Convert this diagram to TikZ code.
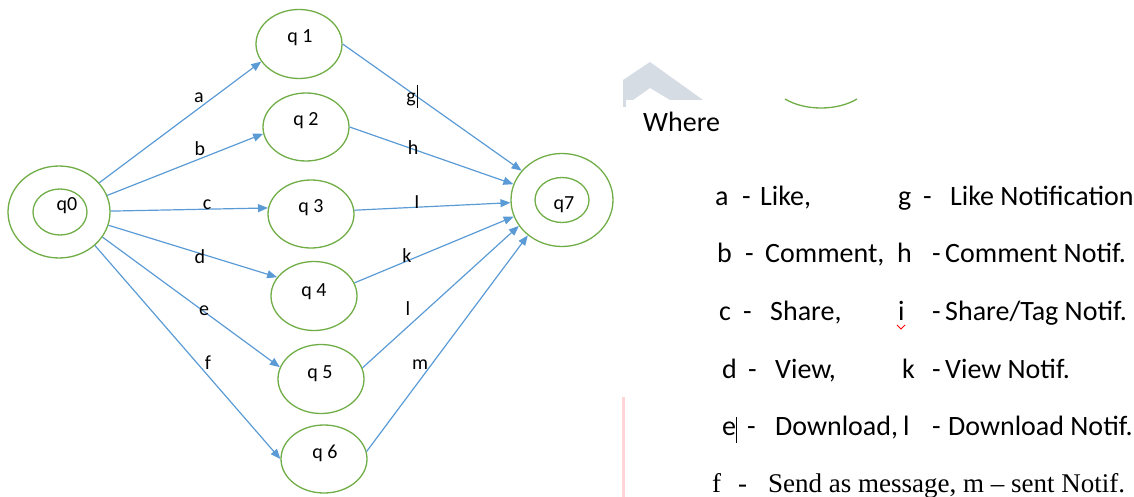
\documentclass[tikz,border=0pt]{standalone}
\usepackage{fontspec}
\setmainfont{Carlito}
\newfontfamily\serifface{Liberation Serif}
\usetikzlibrary{shapes.geometric,arrows.meta}

\definecolor{stategreen}{HTML}{70AD47}
\definecolor{edgeblue}{HTML}{5B9BD5}
\definecolor{patchgrey}{HTML}{D6DCE4}
\definecolor{markpink}{HTML}{FFD5D8}

\tikzset{
	state/.style={ellipse,draw=stategreen,line width=1.3pt,inner sep=0pt,
		minimum width=86pt,minimum height=69pt},
	final/.style={state,minimum width=102pt,minimum height=92pt},
	innerring/.style={state,minimum width=54pt,minimum height=46pt},
	qtext/.style={anchor=base,inner sep=0pt,font=\fontsize{20}{24}\selectfont},
	trans/.style={draw=edgeblue,line width=1.2pt,-{Triangle[length=10pt,width=8pt]}},
	legend/.style={anchor=base west,inner sep=0pt,font=\fontsize{28}{32}\selectfont},
	legendserif/.style={legend,font=\serifface\fontsize{27}{32}\selectfont}
}

\begin{document}
\begin{tikzpicture}[x=1pt,y=-1pt]
	\useasboundingbox (0,0) rectangle (1134,497);
	% states
	\node[final] (q0) at (59,212) {};
	\node[innerring] (q0in) at (60,212) {};
	\node[state] (q1) at (299,44) {};
	\node[state,minimum height=68pt] (q2) at (306,127) {};
	\node[state,minimum height=68pt] (q3) at (311,214) {};
	\node[state] (q4) at (314,296) {};
	\node[state] (q5) at (321,379) {};
	\node[state,minimum height=68pt] (q6) at (324,459) {};
	\node[final,minimum height=93pt] (q7) at (562,200) {};
	\node[innerring,minimum height=45pt] (q7in) at (562,200) {};
	% state names
	\node[qtext] (t0) at (67,210) {q0};
	\node[qtext] (t1) at (300,43) {q 1};
	\node[qtext] (t2) at (306,126) {q 2};
	\node[qtext] (t3) at (311,212) {q 3};
	\node[qtext] (t4) at (314,296) {q 4};
	\node[qtext] (t5) at (320,378) {q 5};
	\node[qtext] (t6) at (325,458) {q 6};
	\node[qtext] (t7) at (564,209) {q7};
	% transitions
	\draw[trans] (q0.36) -- (q1.205);
	\draw[trans] (q0.19) -- (q2.189);
	\draw[trans] (q0.1) -- (q3.172);
	\draw[trans] (q0.-15) -- (q4.153);
	\draw[trans] (q0.-30) -- (q5.164);
	\draw[trans] (q0.-43) -- (q6.180);
	\draw[trans] (q1.0) -- (q7.144);
	\draw[trans] (q2.0) -- (q7.162);
	\draw[trans] (q3.5) -- (q7.183);
	\draw[trans] (q4.18) -- (q7.199);
	\draw[trans] (q5.15) -- (q7.211);
	\draw[trans] (q6.10) -- (q7.226);
	% symbols
	\node[qtext] (sa) at (199,103) {a};
	\node[qtext] (sb) at (200,156) {b};
	\node[qtext] (sc) at (207,209) {c};
	\node[qtext] (sd) at (200,263) {d};
	\node[qtext] (se) at (204,315) {e};
	\node[qtext] (sf) at (208,369) {f};
	\node[qtext] (sg) at (411,103) {g};
	\node[qtext] (sh) at (413,155) {h};
	\node[qtext] (si) at (417,208) {I};
	\node[qtext] (sk) at (407,262) {k};
	\node[qtext] (sl) at (408,315) {l};
	\node[qtext] (sm) at (420,369) {m};
	\draw[line width=1pt] (417,85) -- (417,108);

	% leftovers of the page
	\fill[patchgrey] (623,80) -- (650,62) -- (703,100) -- (670,100) -- (650,88)
		-- (633,100) -- (626,100) -- (626,107) -- (623,107) -- cycle;
	\draw[stategreen,line width=1.3pt] (785,99) .. controls (805,111) and (837,111) .. (857,99);
	\draw[markpink,line width=3pt] (623,397) -- (623,497);

	% legend
	\node[legend] (where) at (643,132) {Where};
	\node[legend] (ka) at (715,205) {a};
	\node[legend] (da) at (742,205) {-};
	\node[legend] (wa) at (760,205) {Like,};
	\node[legend] (kg) at (898,205) {g};
	\node[legend] (dg) at (923,205) {-};
	\node[legend] (wg) at (950,205) {Like Notification};
	\node[legend] (kb) at (717,262) {b};
	\node[legend] (db) at (745,262) {-};
	\node[legend] (wb) at (765,262) {Comment,};
	\node[legend] (kh) at (897,262) {h};
	\node[legend] (dh) at (932,262) {-};
	\node[legend] (wh) at (945,262) {Comment Notif.};
	\node[legend] (kc) at (719,320) {c};
	\node[legend] (dc) at (743,320) {-};
	\node[legend] (wc) at (770,320) {Share,};
	\node[legend] (ki) at (898,320) {i};
	\node[legend] (di) at (932,320) {-};
	\node[legend] (wi) at (945,320) {Share/Tag Notif.};
	\draw[red,line width=0.8pt] (897,325) -- (901,329) -- (905,325);
	\node[legend] (kd) at (722,378) {d};
	\node[legend] (dd) at (748,378) {-};
	\node[legend] (wd) at (775,378) {View,};
	\node[legend] (kk) at (902,378) {k};
	\node[legend] (dk) at (932,378) {-};
	\node[legend] (wk) at (945,378) {View Notif.};
	\node[legend] (ke) at (722,435) {e};
	\node[legend] (de) at (747,435) {-};
	\node[legend] (we) at (775,435) {Download,};
	\node[legend] (kl) at (903,435) {l};
	\node[legend] (dl) at (932,435) {-};
	\node[legend] (wl) at (948,435) {Download Notif.};
	\draw[line width=1pt] (736,417) -- (736,443);
	\node[legendserif] (kf) at (712,492) {f};
	\node[legendserif] (df) at (738,492) {-};
	\node[legendserif] (wf) at (768,492) {Send as message, m \textendash{} sent Notif.};
\end{tikzpicture}
\end{document}
